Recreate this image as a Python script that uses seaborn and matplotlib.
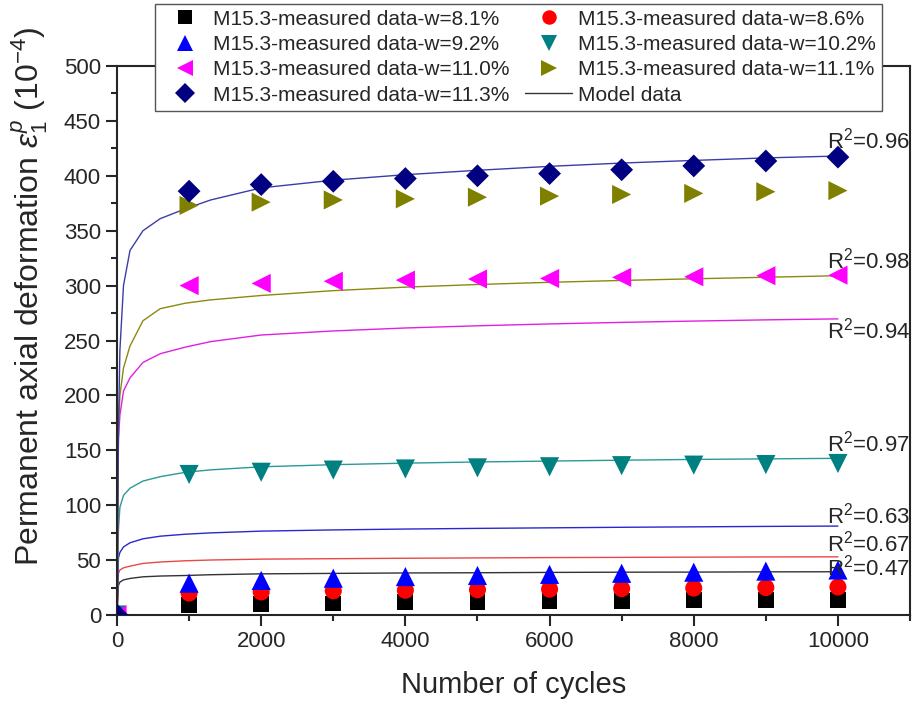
import numpy as np
import pandas as pd
import matplotlib.pyplot as plt
import seaborn as sns
from matplotlib.lines import Line2D
from matplotlib.ticker import MultipleLocator

sns.set_style('ticks')
plt.rcParams['font.family'] = ['Liberation Sans', 'DejaVu Sans']
plt.rcParams['mathtext.fontset'] = 'custom'
plt.rcParams['mathtext.rm'] = 'Liberation Sans'
plt.rcParams['mathtext.it'] = 'Liberation Sans:italic'

# measured points
cycles = [0, 1000, 2000, 3000, 4000, 5000, 6000, 7000, 8000, 9000, 10000]
w81 = [0, 9, 10, 10.5, 11.5, 12, 12.5, 13, 13.5, 13.5, 14]
w86 = [0, 20, 21, 22, 22.5, 23, 23.5, 24, 24.5, 25, 25.5]
w92 = [0, 29, 31.5, 33.5, 35, 36, 37, 38, 39, 40, 41]
w102 = [0, 128, 130, 132, 133, 134, 135, 136, 136.5, 137, 138]
w110 = [0, 300, 302, 304, 305, 306, 306.5, 307.5, 308, 309, 309.5]
w111 = [0, 373, 376, 378, 379, 380.5, 381.5, 383, 384, 385.5, 386.5]
w113 = [0, 386, 392, 395, 397.5, 400, 402, 405.5, 409, 413.5, 417]

# model curves
model_cycles = [0, 20, 40, 90, 180, 360, 600, 950, 1300, 2000, 3000, 4000,
                5000, 6000, 7000, 8000, 9000, 10000]
m81 = [0, 27, 30, 32, 33.3, 34.8, 35.5, 36, 36.7, 37.5, 37.9, 38.3, 38.5, 38.8, 39, 39.1, 39.3, 39.4]
m86 = [0, 38, 41, 43, 44.5, 47, 48.3, 49.4, 50.1, 50.9, 51.3, 51.7, 52, 52.3, 52.5, 52.7, 52.9, 53]
m92 = [0, 52, 57, 62, 65.8, 69.4, 71.8, 73.6, 74.8, 76.4, 77.5, 78.3, 78.9, 79.4, 79.9, 80.3, 80.7, 81]
m102 = [0, 78, 98, 109, 115.5, 122, 126, 130, 132.2, 135, 136.9, 138.3, 139.4, 140.2, 141, 141.7, 142.2, 142.7]
m110 = [0, 160, 182, 204, 216, 230, 238, 244, 249, 255, 258.7, 261.4, 263.4, 265.1, 266.5, 267.7, 268.8, 269.7]
m111 = [0, 170, 200, 225, 245, 268, 279, 284, 287, 291, 295.4, 298.6, 301, 303, 304.7, 306.2, 307.6, 309]
m113 = [0, 170, 241, 300, 332, 350, 361, 370, 378, 389, 396, 401, 405, 408.6, 411.6, 414, 416.3, 418]

labels = ['M15.3-measured data-w=8.1%', 'M15.3-measured data-w=8.6%',
          'M15.3-measured data-w=9.2%', 'M15.3-measured data-w=10.2%',
          'M15.3-measured data-w=11.0%', 'M15.3-measured data-w=11.1%',
          'M15.3-measured data-w=11.3%']
r2_text = ['R$^2$=0.47', 'R$^2$=0.67', 'R$^2$=0.63', 'R$^2$=0.97',
           'R$^2$=0.94', 'R$^2$=0.98', 'R$^2$=0.96']
r2_y = [43, 65.5, 91, 156, 259, 323, 432]

measured = [w81, w86, w92, w102, w110, w111, w113]
models = [m81, m86, m92, m102, m110, m111, m113]
markers = ['s', 'o', '^', 'v', '<', '>', 'D']
sizes = [130, 150, 190, 190, 190, 190, 135]
colors = ['#000000', '#ff0000', '#0000ff', '#008080', '#ff00ff', '#808000', '#000080']
line_colors = ['#333333', '#e84848', '#2828d0', '#2a9a96', '#e020e0', '#8a8a10', '#3c3ca8']

fig = plt.figure(figsize=(9.17, 7.02), dpi=100)
ax = fig.add_axes([0.1276, 0.1239, 0.8648, 0.7821])

for m, c in zip(models, line_colors):
    sns.lineplot(x=model_cycles, y=m, color=c, linewidth=1.0, ax=ax, zorder=2)

handles = []
for vals, mk, s, c, lab in zip(measured, markers, sizes, colors, labels):
    sns.scatterplot(x=cycles, y=vals, marker=mk, s=s, color=c, edgecolor='none',
                    ax=ax, zorder=3)
    handles.append(Line2D([], [], linestyle='none', marker=mk, color=c,
                          markersize=np.sqrt(s) * 0.85, markeredgewidth=0, label=lab))
handles.append(Line2D([], [], color='#333333', linewidth=1.0, label='Model data'))

for t, y in zip(r2_text, r2_y):
    ax.text(9850, y, t, fontsize=16, ha='left', va='center')

ax.set_xlim(0, 11000)
ax.set_ylim(0, 500)
ax.xaxis.set_major_locator(MultipleLocator(2000))
ax.xaxis.set_minor_locator(MultipleLocator(1000))
ax.yaxis.set_major_locator(MultipleLocator(50))
ax.yaxis.set_minor_locator(MultipleLocator(25))
ax.tick_params(which='major', length=8, width=1.5, labelsize=16, direction='out')
ax.tick_params(which='minor', length=4, width=1.5, direction='out')
for sp in ax.spines.values():
    sp.set_linewidth(1.5)
    sp.set_visible(True)

ax.set_xlabel('Number of cycles', fontsize=21, labelpad=14)
ax.set_ylabel(r'Permanent axial deformation $\varepsilon_1^p$ (10$^{-4}$)', fontsize=23)
ax.yaxis.set_label_coords(-0.085, 0.58)

order = [0, 2, 4, 6, 1, 3, 5, 7]
leg = fig.legend([handles[i] for i in order], [handles[i].get_label() for i in order],
                 ncol=2, loc='upper left', bbox_to_anchor=(0.169, 0.995),
                 fontsize=15, frameon=True, fancybox=False,
                 framealpha=1, edgecolor='#555555', handlelength=2.25,
                 labelspacing=0.3, borderpad=0.3, handletextpad=0.25,
                 columnspacing=0.75, borderaxespad=0)
leg.get_frame().set_linewidth(1.0)

fig.savefig('out.png', dpi=100)
